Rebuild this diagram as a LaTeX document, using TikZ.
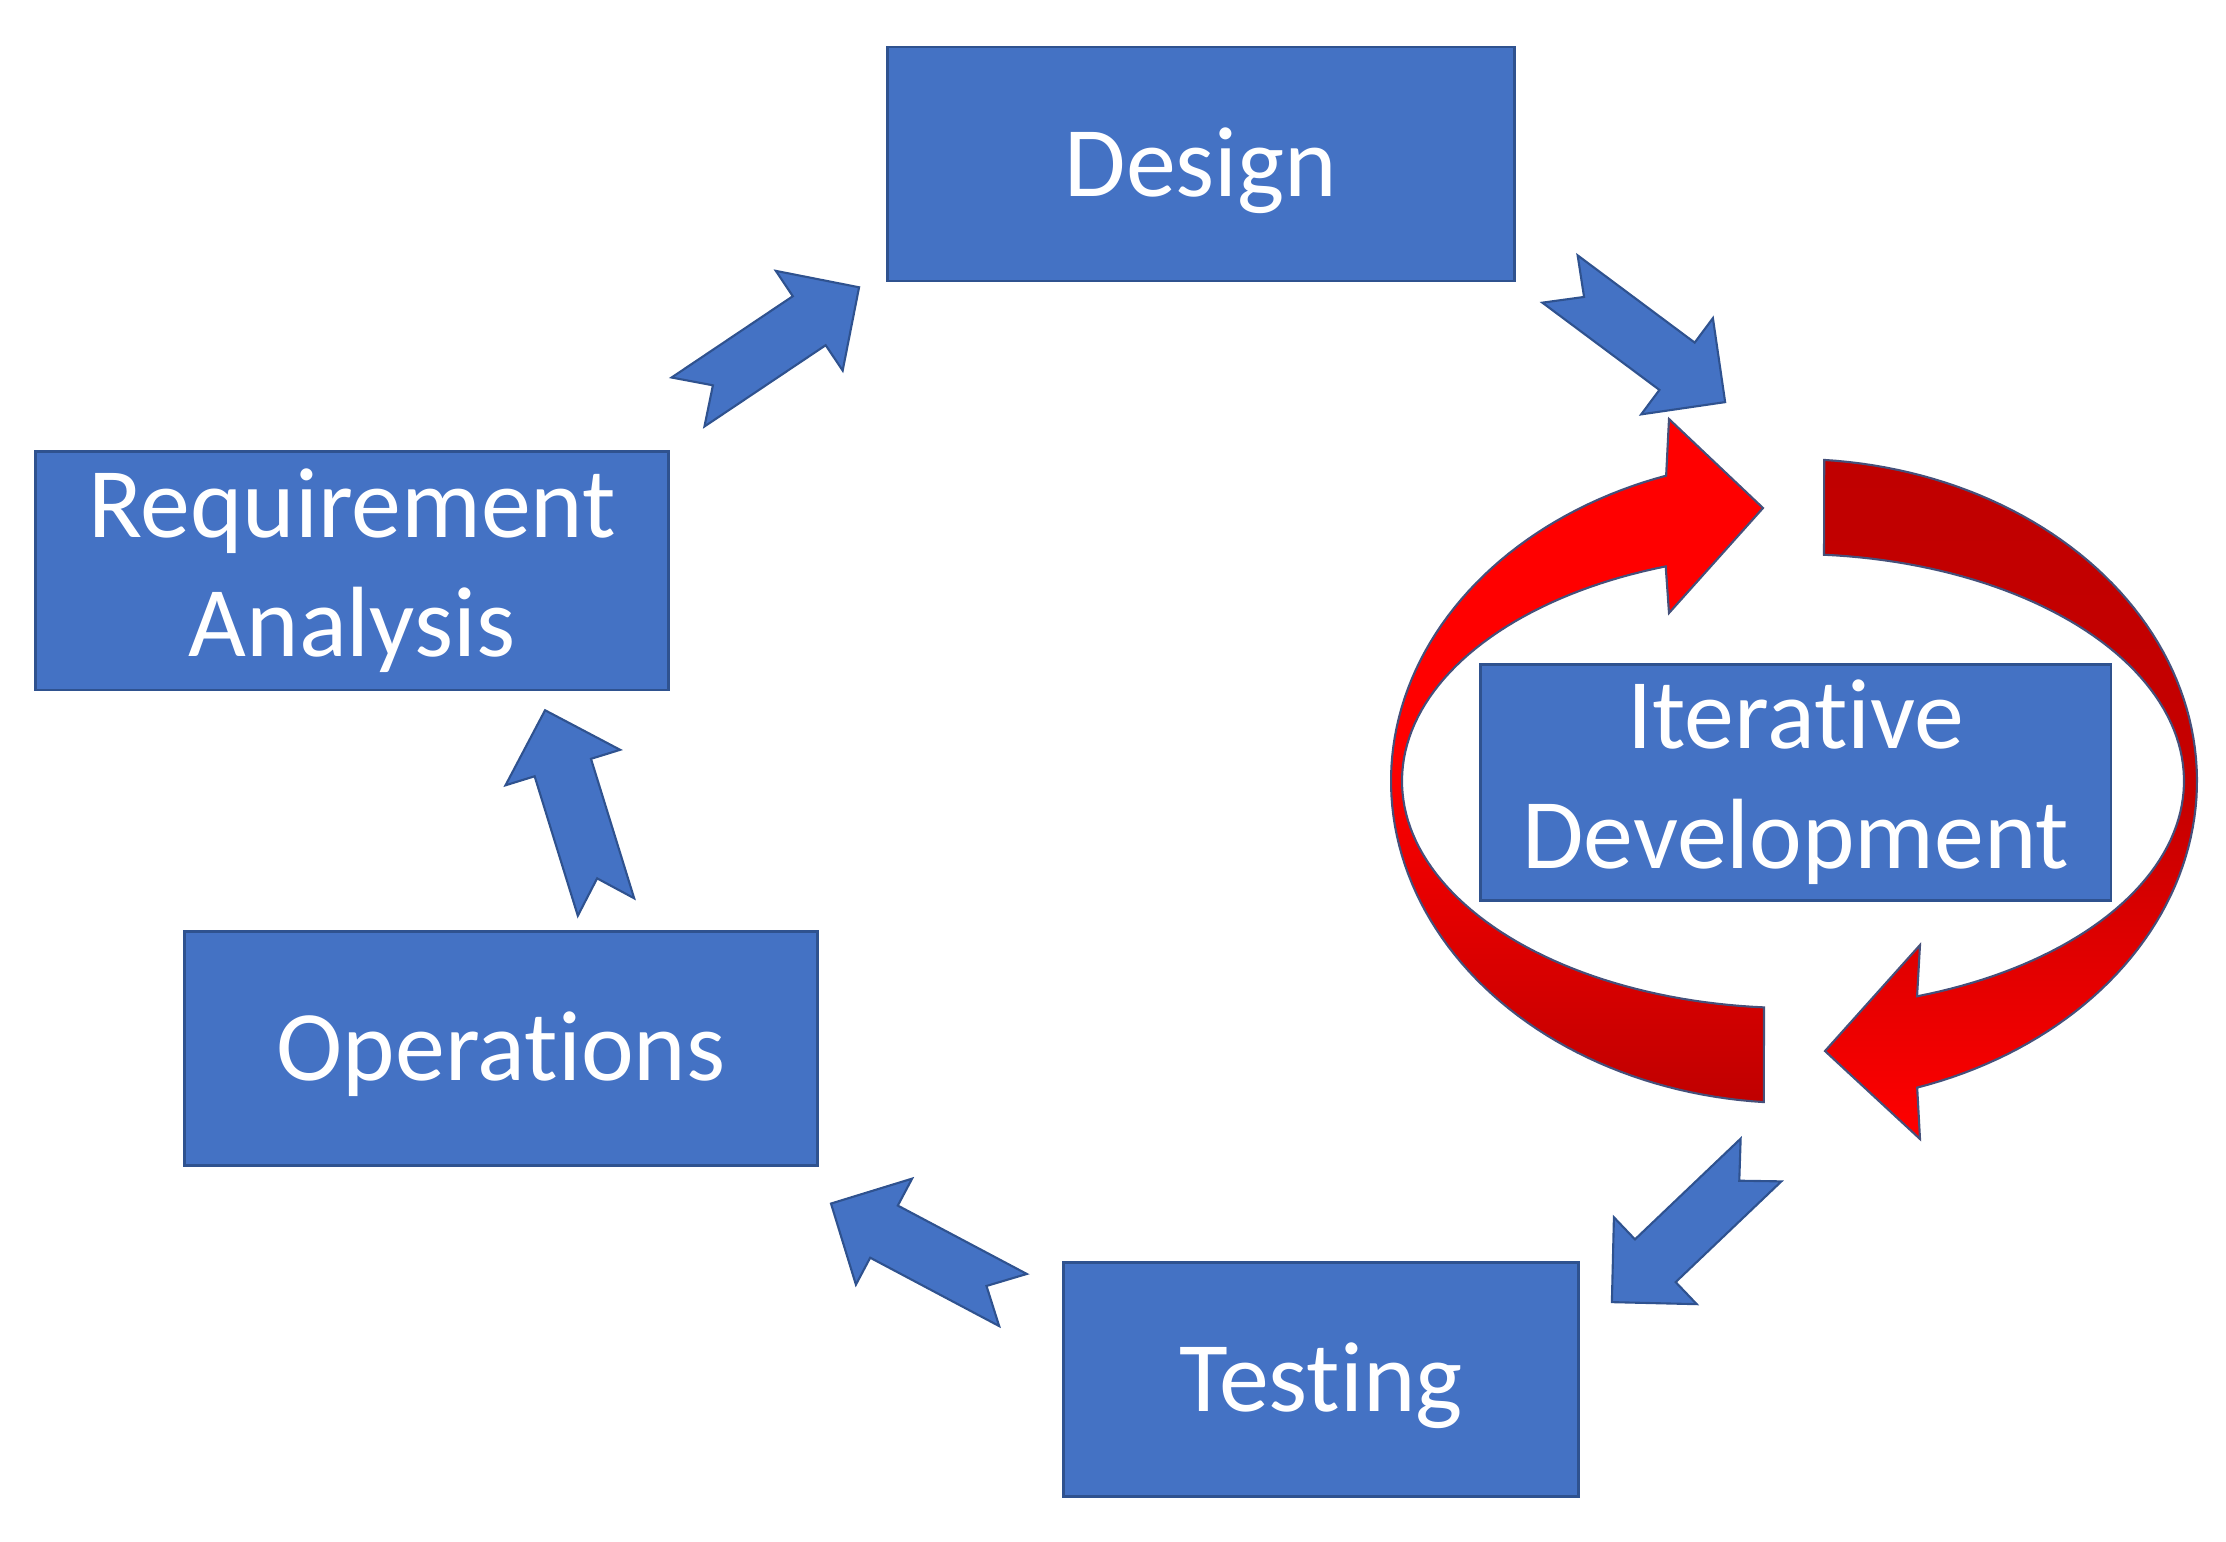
\documentclass[tikz,border=0pt]{standalone}
\usepackage{fontspec}
\setmainfont{Carlito}[Ligatures=CommonOff]
\usetikzlibrary{calc}
\definecolor{boxblue}{HTML}{4472C4}
\definecolor{boxedge}{HTML}{2F528F}
\definecolor{ringdark}{HTML}{C00000}
\definecolor{ringbright}{HTML}{FF0000}
\definecolor{ringedge}{HTML}{45507A}
\begin{document}
\begin{tikzpicture}[x=0.01cm,y=-0.01cm,
  stagebox/.style={draw=boxedge, fill=boxblue, line width=0.8pt, text=white,
    font=\fontsize{28.4}{34}\selectfont, align=center, inner sep=0pt},
  oneline/.style={text height=18.3pt, text depth=0pt},
  barrowfill/.style={fill=boxblue, draw=boxedge, line width=0.6pt, line join=miter},
  ringline/.style={draw=ringedge, line width=0.6pt, line join=miter},
  pics/barrow/.style={code={
    \draw[barrowfill] (0,29.5) -- (146,29.5) -- (146,60) -- (206,0) -- (146,-60)
      -- (146,-29.5) -- (0,-29.5) -- (30,0) -- cycle;}}
]
\useasboundingbox (0,0) rectangle (2226,1541);

% stage boxes
\node[stagebox, oneline, minimum width=6.27cm, minimum height=2.34cm] (design) at (1201,164) {Design};
\node[stagebox, minimum width=6.33cm, minimum height=2.385cm] (req) at (352,570.7) {Requirement\\Analysis};
\node[stagebox, oneline, minimum width=6.33cm, minimum height=2.34cm] (ops) at (501.1,1048.4) {Operations};
\node[stagebox, oneline, minimum width=5.15cm, minimum height=2.34cm] (test) at (1321,1379.2) {Testing};

% iterative ring
\path[ringline, top color=ringbright, bottom color=ringdark, middle color=ringbright]
  plot[domain=94.3:251.5, samples=90] ({1794+403*cos(\x)},{781+322*sin(\x)})
  -- (1669,419) -- (1763,508) -- (1669,613)
  -- plot[domain=251.0:94.25, samples=90] ({1793+391*cos(\x)},{781+227*sin(\x)}) -- cycle;
\path[ringline, top color=ringdark, bottom color=ringbright, middle color=ringdark!90!ringbright]
  plot[domain=274.3:432.2, samples=90] ({1794+403*cos(\x)},{781+322*sin(\x)})
  -- (1920,1139) -- (1825,1051) -- (1920,945)
  -- plot[domain=431.5:274.55, samples=90] ({1793+391*cos(\x)},{781+227*sin(\x)}) -- cycle;

\node[stagebox, minimum width=6.30cm, minimum height=2.36cm] (iter) at (1795.8,782.2) {Iterative\\Development};

% block arrows
\coordinate (a1s) at (688,402);   \coordinate (a1e) at (858,288);
\coordinate (a2s) at (1560,279);  \coordinate (a2e) at (1725,402);
\coordinate (a3s) at (1761,1160); \coordinate (a3e) at (1612,1302);
\coordinate (a4s) at (1013,1300); \coordinate (a4e) at (830,1203);
\coordinate (a5s) at (606,907);   \coordinate (a5e) at (545,710);
\foreach \s/\e in {a1s/a1e, a2s/a2e, a3s/a3e, a4s/a4e, a5s/a5e}{
  \path let \p1=($(\e)-(\s)$), \n1={atan2(\y1,\x1)} in (\s) pic[rotate=\n1] {barrow};
}
\end{tikzpicture}
\end{document}
